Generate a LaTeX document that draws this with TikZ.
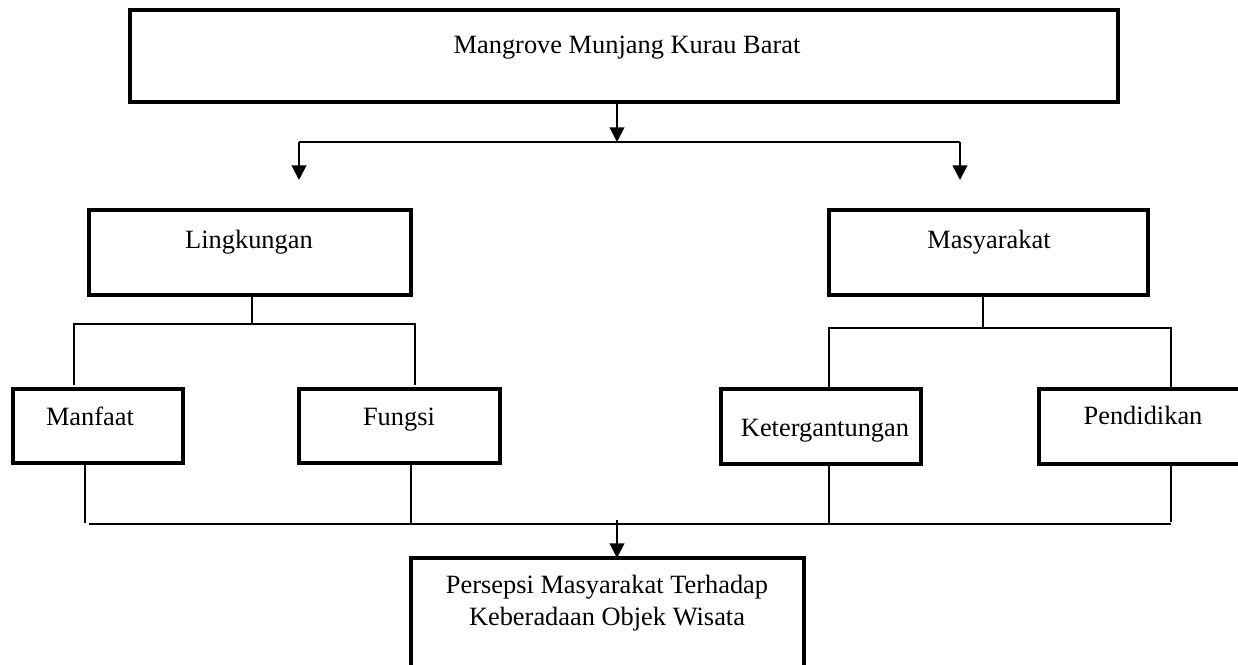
\documentclass[tikz,border=0pt]{standalone}
\usepackage{fontspec}
\setmainfont{Liberation Serif}
\usetikzlibrary{arrows.meta}
\begin{document}
\begin{tikzpicture}[x=0.75pt,y=-0.75pt,
  box/.style={draw, line width=3pt, inner sep=0pt, outer sep=0pt},
  lbl/.style={anchor=base, inner sep=0pt, font=\fontsize{19.8}{24}\selectfont},
  link/.style={line width=1.2pt},
  hline/.style={line width=1.5pt},
  arr/.style={line width=1.5pt, -{Triangle[length=11pt,width=11pt]}}]
\useasboundingbox (0,0) rectangle (1238,664);
\clip (0,0) rectangle (1238,664);

% boxes
\node[box, minimum width=741pt, minimum height=69pt] (top) at (624,56.4) {};
\node[box, minimum width=241.5pt, minimum height=63.75pt] (lin) at (249.5,252.5) {};
\node[box, minimum width=239.25pt, minimum height=63.75pt] (mas) at (988.8,252.5) {};
\node[box, minimum width=127.5pt, minimum height=55.5pt] (man) at (97.5,425.6) {};
\node[box, minimum width=150.4pt, minimum height=55.5pt] (fun) at (399.3,425.6) {};
\node[box, minimum width=150.4pt, minimum height=56.25pt] (ket) at (820.8,426.2) {};
\node[box, minimum width=158.25pt, minimum height=56.25pt] (pen) at (1144.5,426.3) {};
\node[box, minimum width=294.5pt, minimum height=99pt] (res) at (607.3,624) {};

% labels
\node[lbl] (tTop) at (627,53) {Mangrove Munjang Kurau Barat};
\node[lbl] (tLin) at (249,248) {Lingkungan};
\node[lbl] (tMas) at (989,248) {Masyarakat};
\node[lbl] (tMan) at (90,425) {Manfaat};
\node[lbl] (tFun) at (399,425) {Fungsi};
\node[lbl] (tKet) at (825,436) {Ketergantungan};
\node[lbl] (tPen) at (1143,424) {Pendidikan};
\node[lbl, align=center] (tRes) at (607,625) {Persepsi Masyarakat Terhadap\\Keberadaan Objek Wisata};

% top split
\coordinate (j1) at (617,142);
\coordinate (aL) at (299,142);
\coordinate (aR) at (960,142);
\coordinate (tL) at (299,180);
\coordinate (tR) at (960,180);
\draw[arr] (top.south -| j1) -- (j1);
\draw[hline] (aL) -- (aR);
\draw[arr] (aL) -- (tL);
\draw[arr] (aR) -- (tR);

% left branch
\coordinate (bL) at (252,324);
\coordinate (bL1) at (74,324);
\coordinate (bL2) at (415,324);
\coordinate (dL1) at (74,385);
\coordinate (dL2) at (415,385);
\draw[link] (lin.south -| bL) -- (bL);
\draw[link] (dL1) -- (bL1) -- (bL2) -- (dL2);

% right branch
\coordinate (bR) at (983,328);
\coordinate (bR1) at (829,328);
\coordinate (bR2) at (1171,328);
\coordinate (dR1) at (829,387);
\coordinate (dR2) at (1171,387);
\draw[link] (mas.south -| bR) -- (bR);
\draw[link] (dR1) -- (bR1) -- (bR2) -- (dR2);

% bottom join
\coordinate (c1) at (85,523);
\coordinate (c2) at (411,524);
\coordinate (c3) at (829,524);
\coordinate (c4) at (1171,522);
\coordinate (h1) at (89,524);
\coordinate (h2) at (1171,524);
\coordinate (j2) at (617,520);
\draw[link] (man.south -| c1) -- (c1);
\draw[link] (fun.south -| c2) -- (c2);
\draw[link] (ket.south -| c3) -- (c3);
\draw[link] (pen.south -| c4) -- (c4);
\draw[link] (h1) -- (h2);
\draw[arr] (j2) -- (res.north -| j2);
\end{tikzpicture}
\end{document}
